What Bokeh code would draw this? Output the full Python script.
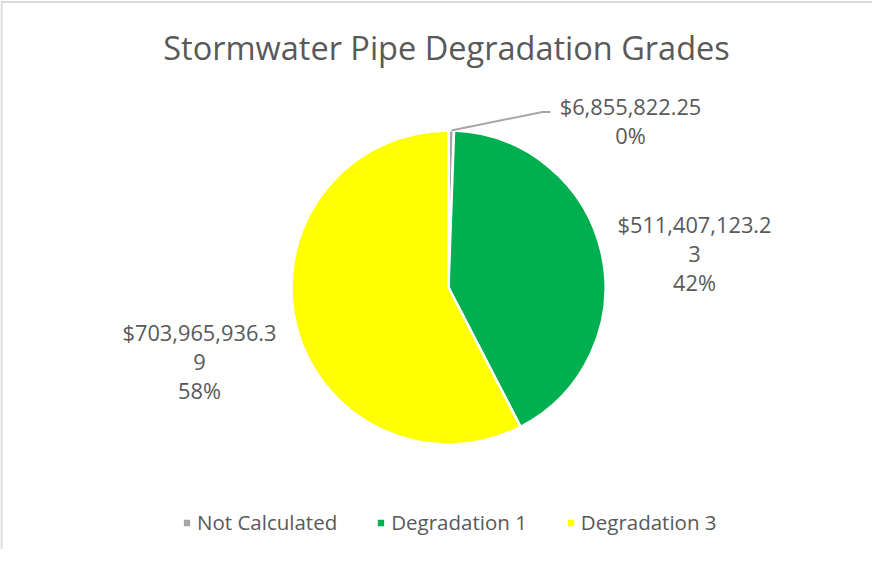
import math
from bokeh.plotting import figure
from bokeh.models import Range1d, Legend, LegendItem, ColumnDataSource
from bokeh.core.properties import value
from bokeh.embed import file_html
from bokeh.resources import INLINE

# ---- data ----
title = "Stormwater Pipe Degradation Grades"
categories = ["Not Calculated", "Degradation 1", "Degradation 3"]
amounts = [6855822.25, 511407123.23, 703965936.39]
colors = ["#a5a5a5", "#00b050", "#ffff00"]

# ---- layout constants (page pixels) ----
W, H = 872, 549
PX0, PY0 = 8, 8
FONT = "Open Sans"
TXT = "#595959"
CX, CY, R = 456, 295, 157
label_font = "21.8px"
line_gap = 29

def dy(py):  # page y -> data y
    return 565 - py

p = figure(width=W, height=H, output_backend="svg", toolbar_location=None,
           x_range=Range1d(PX0, PX0 + W), y_range=Range1d(565 - PY0 - H, 565 - PY0),
           min_border=0, outline_line_color=None, background_fill_color="white",
           border_fill_color="white")
p.axis.visible = False
p.grid.visible = False

# chart border (top and left visible)
p.line([PX0 + 1, PX0 + 1, PX0 + W], [dy(565), dy(9.5), dy(9.5)], line_color="#d9d9d9", line_width=2)

# title
p.text(x=[CX - 2], y=[dy(54.5)], text=[title], text_font=value(FONT), text_font_size="32.5px",
       text_color=TXT, text_align="center", text_baseline="middle")

# pie
total = sum(amounts)
fracs = [a / total for a in amounts]
cum = [0.0]
for f in fracs:
    cum.append(cum[-1] + f)
start = [math.pi / 2 - 2 * math.pi * cum[i + 1] for i in range(len(amounts))]
end = [math.pi / 2 - 2 * math.pi * cum[i] for i in range(len(amounts))]
src = ColumnDataSource(dict(x=[CX] * 3, y=[dy(CY)] * 3, s=start, e=end, c=colors, cat=categories))
wr = p.wedge(x="x", y="y", radius=R, radius_units="screen", start_angle="s", end_angle="e",
             fill_color="c", line_color="white", line_width=2.5, source=src)

# percentages (largest remainder so they sum to 100 like Excel)
raw = [f * 100 for f in fracs]
pct = [int(math.floor(v)) for v in raw]
rem = sorted(range(len(raw)), key=lambda i: raw[i] - pct[i], reverse=True)
for i in rem[: 100 - sum(pct)]:
    pct[i] += 1

def wrap(s, n=14):
    return [s[i:i + n] for i in range(0, len(s), n)]

label_pos = [(638, 114), (702, 232), (207, 340)]
for i, a in enumerate(amounts):
    lines = wrap("${:,.2f}".format(a)) + ["{}%".format(pct[i])]
    lx, ly = label_pos[i]
    p.text(x=[lx] * len(lines), y=[dy(ly + k * line_gap) for k in range(len(lines))], text=lines,
           text_font=value(FONT), text_font_size=label_font, text_color=TXT,
           text_align="center", text_baseline="middle")

# leader line for the small slice
mid = math.pi / 2 - 2 * math.pi * (cum[0] + cum[1]) / 2
sx, sy = CX + R * math.cos(mid), dy(CY) + R * math.sin(mid)
p.line([sx, 550, 558], [sy, dy(119.5), dy(119.5)], line_color="#a6a6a6", line_width=2)

# legend
items = [LegendItem(label=categories[i], renderers=[wr], index=i) for i in range(3)]
legend = Legend(items=items, orientation="horizontal", location=(181, 13),
                glyph_width=11, glyph_height=11, label_standoff=5, spacing=38,
                label_text_font=FONT, label_text_font_size="20.5px", label_text_color=TXT,
                border_line_color=None, background_fill_alpha=0, padding=0, margin=0)
p.add_layout(legend)

open("out.html", "w").write(file_html(p, INLINE))
